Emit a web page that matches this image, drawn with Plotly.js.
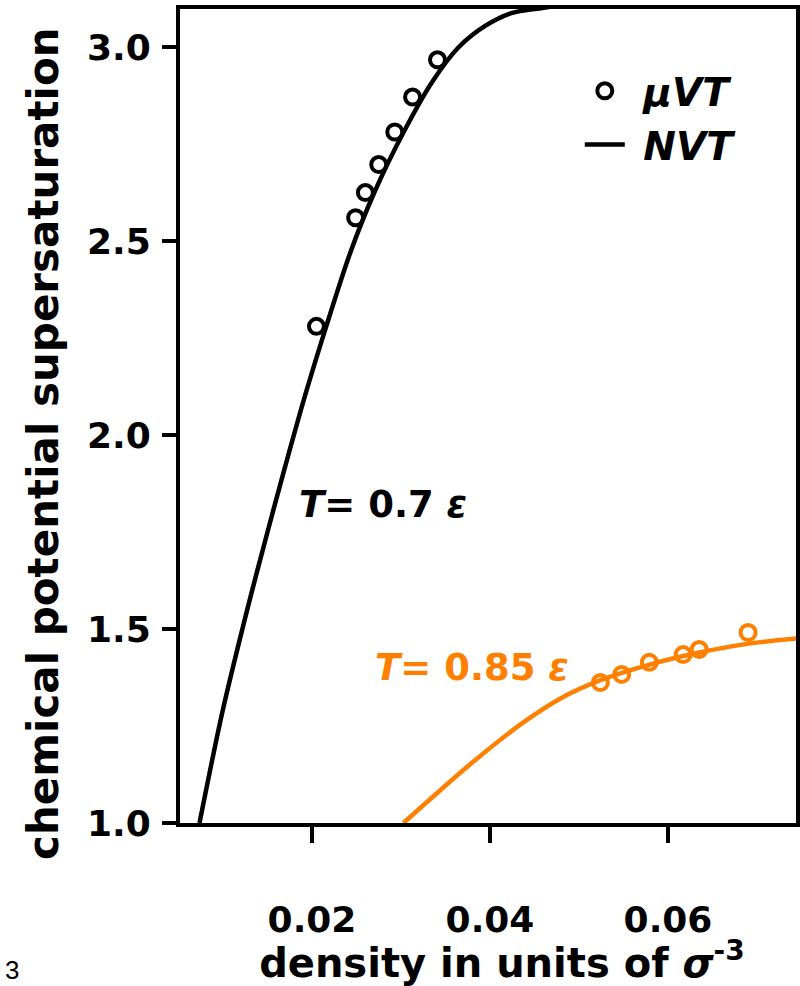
<!DOCTYPE html>
<html>
<head>
<meta charset="utf-8">
<script src="https://cdn.plot.ly/plotly-3.0.1.min.js"></script>
<style>html,body{margin:0;padding:0;background:#fff;}#chart{width:800px;height:986px;}</style>
</head>
<body>
<div id="chart"></div>
<script>
// ---- data ----
// T = 0.7 eps : grand-canonical (muVT) simulation points
const muvtLowX = [0.0205, 0.0249, 0.0260, 0.0275, 0.0293, 0.0313, 0.0341];
const muvtLowY = [2.280, 2.560, 2.625, 2.697, 2.781, 2.871, 2.967];
// T = 0.7 eps : canonical (NVT) curve
const nvtLowX = [0.00736, 0.0099, 0.0129, 0.0150, 0.0165, 0.0192, 0.0216, 0.0243, 0.0270, 0.0303, 0.0335, 0.0365, 0.0395, 0.0425, 0.0457, 0.0500];
const nvtLowY = [1.000, 1.283, 1.566, 1.750, 1.878, 2.100, 2.280, 2.470, 2.625, 2.781, 2.910, 3.000, 3.055, 3.088, 3.100, 3.115];
// T = 0.85 eps : muVT points
const muvtHighX = [0.0524, 0.0548, 0.0579, 0.0617, 0.0635, 0.0690];
const muvtHighY = [1.362, 1.383, 1.414, 1.434, 1.447, 1.491];
// T = 0.85 eps : NVT curve
const nvtHighX = [0.03028, 0.03365, 0.03781, 0.04343, 0.04792, 0.05242, 0.05803, 0.06365, 0.06927, 0.07466];
const nvtHighY = [1.000, 1.069, 1.152, 1.254, 1.321, 1.368, 1.409, 1.440, 1.463, 1.476];

const xTicks = [0.02, 0.04, 0.06];
const xTickText = ['0.02', '0.04', '0.06'];
const yTicks = [1.0, 1.5, 2.0, 2.5, 3.0];
const yTickText = ['1.0', '1.5', '2.0', '2.5', '3.0'];

const xTitle = 'density in units of <i>σ</i><sup>-3</sup>';
const yTitle = 'chemical potential supersaturation';

const BLACK = '#000000';
const ORANGE = '#ff8000';
const NB = '\u00A0';
const ZW = '\u200B';

const traces = [
  {x: nvtLowX, y: nvtLowY, type: 'scatter', mode: 'lines', name: NB + 'NVT',
   line: {color: BLACK, width: 4.5, shape: 'spline', smoothing: 0.8}, legendrank: 2},
  {x: muvtLowX, y: muvtLowY, type: 'scatter', mode: 'markers', name: NB + 'μVT',
   marker: {symbol: 'circle-open', size: 15, color: BLACK, line: {width: 4, color: BLACK}}, legendrank: 1},
  {x: nvtHighX, y: nvtHighY, type: 'scatter', mode: 'lines', showlegend: false,
   line: {color: ORANGE, width: 4.5, shape: 'spline', smoothing: 0.8}},
  {x: muvtHighX, y: muvtHighY, type: 'scatter', mode: 'markers', showlegend: false,
   marker: {symbol: 'circle-open', size: 15, color: ORANGE, line: {width: 4, color: ORANGE}}}
];

const tickFont = {family: 'DejaVu Sans', size: 36, color: BLACK, weight: 'bold'};

const layout = {
  width: 800, height: 986,
  margin: {l: 180, r: 4, t: 9, b: 163, pad: 0},
  paper_bgcolor: '#ffffff', plot_bgcolor: '#ffffff',
  showlegend: true,
  legend: {x: 0.649, y: 0.9386, xanchor: 'left', yanchor: 'top', bgcolor: 'rgba(0,0,0,0)',
           font: {family: 'DejaVu Sans', size: 39, color: BLACK, weight: 'bold', style: 'italic'},
           traceorder: 'normal', itemwidth: 40},
  xaxis: {
    range: [0.005169, 0.074382], tickvals: xTicks, ticktext: xTickText,
    showgrid: false, zeroline: false, showline: true, linecolor: BLACK, linewidth: 4,
    mirror: true, ticks: 'outside', ticklen: 16, tickwidth: 4, tickcolor: BLACK,
    tickfont: tickFont, ticklabelstandoff: 46,
    title: {text: ZW + NB + NB + xTitle, standoff: 8,
            font: {family: 'DejaVu Sans', size: 40, color: BLACK, weight: 'bold'}}
  },
  yaxis: {
    range: [1.0, 3.098], tickvals: yTicks, ticktext: yTickText,
    showgrid: false, zeroline: false, showline: true, linecolor: BLACK, linewidth: 4,
    mirror: true, ticks: 'outside', ticklen: 14, tickwidth: 4, tickcolor: BLACK,
    tickfont: tickFont, ticklabelstandoff: 4
  },
  annotations: [
    {x: -0.2224, y: 0.4656, xref: 'paper', yref: 'paper', xanchor: 'center', yanchor: 'middle',
     textangle: -90, showarrow: false, text: yTitle,
     font: {family: 'DejaVu Sans', size: 42, color: BLACK, weight: 'bold'}},
    {x: 0.02798, y: 1.82, xref: 'x', yref: 'y', showarrow: false,
     text: '<i>T</i>= 0.7 <i>ε</i>',
     font: {family: 'DejaVu Sans', size: 37, color: BLACK, weight: 'bold'}},
    {x: 0.03798, y: 1.402, xref: 'x', yref: 'y', showarrow: false,
     text: '<i>T</i>= 0.85 <i>ε</i>',
     font: {family: 'DejaVu Sans', size: 37, color: ORANGE, weight: 'bold'}},
    {x: -0.2873, y: -0.18, xref: 'paper', yref: 'paper', xanchor: 'left', yanchor: 'middle', showarrow: false,
     text: '3', font: {family: 'Liberation Sans', size: 26, color: BLACK}}
  ]
};

Plotly.newPlot('chart', traces, layout, {staticPlot: true, displayModeBar: false});
</script>
</body>
</html>
